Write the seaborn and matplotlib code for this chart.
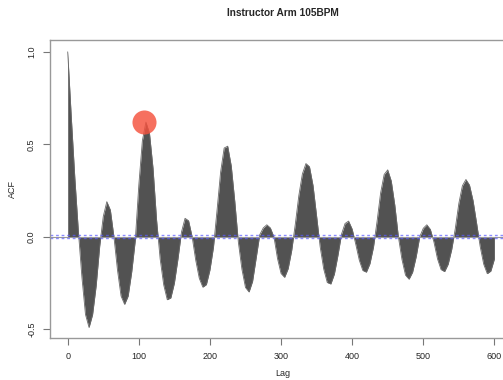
import numpy as np
import matplotlib
matplotlib.use("Agg")
import matplotlib.pyplot as plt
import seaborn as sns

# ACF values, every 5 lags from 0 to 600
lag = np.arange(0, 601, 5)
acf = [1.00, 0.65, 0.32, 0.03, -0.22, -0.42, -0.49, -0.42, -0.265, -0.05,
       0.11, 0.19, 0.145, 0.00, -0.18, -0.32, -0.365, -0.32, -0.19, -0.02,
       0.28, 0.52, 0.62, 0.56, 0.37, 0.09, -0.12, -0.26, -0.34, -0.33,
       -0.25, -0.12, 0.026, 0.10, 0.087, 0.00, -0.126, -0.224, -0.272, -0.258,
       -0.179, -0.055, 0.144, 0.35, 0.48, 0.49, 0.383, 0.19, -0.03, -0.176,
       -0.274, -0.298, -0.24, -0.115, 0.011, 0.048, 0.065, 0.048, 0.00, -0.117,
       -0.198, -0.219, -0.172, -0.073, 0.067, 0.223, 0.34, 0.396, 0.379, 0.277,
       0.113, -0.054, -0.174, -0.247, -0.255, -0.201, -0.10, 0.014, 0.072, 0.085,
       0.042, -0.039, -0.126, -0.182, -0.191, -0.145, -0.055, 0.083, 0.237, 0.337,
       0.362, 0.302, 0.171, 0.00, -0.122, -0.207, -0.229, -0.191, -0.108, 0.00,
       0.046, 0.065, 0.04, -0.028, -0.119, -0.177, -0.188, -0.148, -0.068, 0.044,
       0.18, 0.276, 0.31, 0.28, 0.196, 0.074, -0.052, -0.148, -0.199, -0.185,
       -0.12]

# confidence band and the highlighted peak
ci = 0.0085
highlight_lag = 107.3
highlight_acf = 0.622

sns.set_style("white")
plt.rcParams['font.family'] = ['Liberation Sans', 'DejaVu Sans']

fig = plt.figure(figsize=(5.03, 3.80), dpi=100)
ax = fig.add_axes([50 / 503, 1 - 338 / 380, 465 / 503, 298 / 380])

# vertical ACF bars drawn so dense they read as a filled shape
ax.fill_between(lag, acf, 0, color='#525252', lw=0)
sns.lineplot(x=lag, y=acf, ax=ax, color='#6a6a6a', lw=0.6)

ax.axhline(0, color='#9a9a9a', lw=0.8)
for c in (ci, -ci):
    ax.axhline(c, color='#5c5cff', lw=1.0, alpha=0.7, dashes=(2, 2))

ax.scatter([highlight_lag], [highlight_acf], s=300, color='#f4503c',
           alpha=0.82, lw=0, zorder=5)

ax.set_xlim(-24.9, 629)
ax.set_ylim(-0.547, 1.064)
ax.set_xticks([0, 100, 200, 300, 400, 500, 600])
ax.set_yticks([-0.5, 0.0, 0.5, 1.0])
ax.set_yticklabels(['-0.5', '0.0', '0.5', '1.0'], rotation=90, va='center')
ax.tick_params(axis='both', labelsize=6.5, length=5, width=0.8,
               color='#777777', direction='out', pad=5,
               bottom=True, left=True)

for s in ax.spines.values():
    s.set_color('#999999')
    s.set_linewidth(1.0)

ax.set_xlabel('Lag', fontsize=6.5, labelpad=6)
ax.set_ylabel('ACF', fontsize=6.5, labelpad=7)
ax.set_title('Instructor Arm 105BPM', fontsize=7.3, fontweight='bold', pad=17)

fig.savefig('out.png', dpi=100)
